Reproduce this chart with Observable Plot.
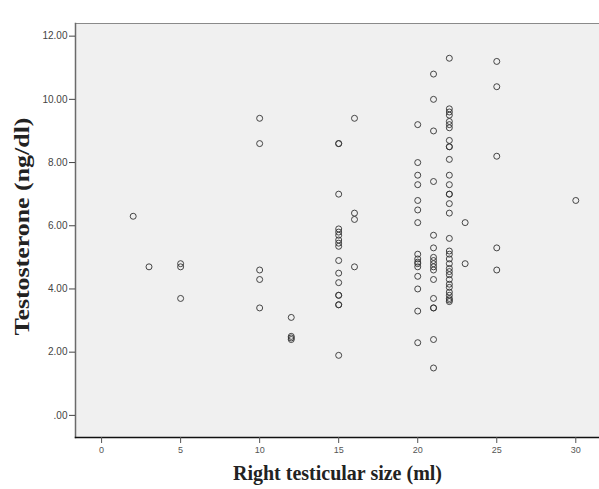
<!DOCTYPE html>
<html>
<head>
<meta charset="utf-8">
<script src="https://cdn.jsdelivr.net/npm/d3@7"></script>
<script src="https://cdn.jsdelivr.net/npm/@observablehq/plot@0.6"></script>
<style>
  html, body { margin: 0; padding: 0; background: #ffffff; }
  #chart svg { display: block; }
</style>
</head>
<body>
<div id="chart"></div>
<script>
// Right testicular size (ml) per group and testosterone (ng/dl) readings
const size2 = [6.3];
const size3 = [4.7];
const size5 = [4.8, 4.7, 3.7];
const size10 = [9.4, 8.6, 4.6, 4.3, 3.4];
const size12 = [3.1, 2.5, 2.45, 2.4];
const size15 = [8.6, 8.6, 7.0, 5.9, 5.8, 5.7, 5.55, 5.45, 5.35, 4.9, 4.5, 4.2, 3.8, 3.8, 3.5, 3.5, 1.9];
const size16 = [9.4, 6.4, 6.2, 4.7];
const size20 = [9.2, 8.0, 7.6, 7.3, 6.8, 6.5, 6.1, 5.1, 4.95, 4.85, 4.8, 4.7, 4.4, 4.0, 3.3, 2.3];
const size21 = [10.8, 10.0, 9.0, 7.4, 5.7, 5.3, 5.0, 4.9, 4.8, 4.7, 4.6, 4.3, 3.7, 3.4, 3.4, 2.4, 1.5];
const size22 = [11.3, 9.7, 9.6, 9.5, 9.3, 9.2, 9.1, 8.7, 8.5, 8.5, 8.1, 7.6, 7.3, 7.0, 7.0, 6.7, 6.4, 5.6, 5.2, 5.1, 4.95, 4.8, 4.65, 4.55, 4.45, 4.3, 4.15, 4.05, 3.9, 3.8, 3.7, 3.65, 3.6];
const size23 = [6.1, 4.8];
const size25 = [11.2, 10.4, 8.2, 5.3, 4.6];
const size30 = [6.8];

const sizes = [2, 3, 5, 10, 12, 15, 16, 20, 21, 22, 23, 25, 30];
const groups = [size2, size3, size5, size10, size12, size15, size16, size20, size21, size22, size23, size25, size30];

const xTicks = [0, 5, 10, 15, 20, 25, 30];
const yTicks = [0, 2, 4, 6, 8, 10, 12];
const xTitle = "Right testicular size (ml)";
const yTitle = "Testosterone (ng/dl)";

const data = sizes.flatMap((s, i) => groups[i].map(t => ({size: s, testosterone: t})));

const yFormat = d => d === 0 ? ".00" : d.toFixed(2);
const serif = "'Liberation Serif', 'Times New Roman', serif";

const chart = Plot.plot({
  width: 599,
  height: 489,
  marginLeft: 75,
  marginRight: 0,
  marginTop: 23,
  marginBottom: 52,
  style: {background: "#ffffff", fontFamily: "Arial, 'Liberation Sans', sans-serif"},
  x: {domain: [-1.65, 31.5]},
  y: {domain: [-0.7, 12.4]},
  marks: [
    Plot.frame({fill: "#f0f0f0", stroke: null}),
    Plot.frame({anchor: "top", stroke: "#8a8a8a", strokeWidth: 1.2}),
    Plot.frame({anchor: "left", stroke: "#6a6a6a", strokeWidth: 1.5}),
    Plot.frame({anchor: "bottom", stroke: "#111", strokeWidth: 1.5}),
    Plot.axisY({ticks: yTicks, tickFormat: yFormat, tickSize: 6, tickPadding: 2, fontSize: 10, fill: "#444", stroke: "#444", label: null}),
    Plot.axisX({ticks: xTicks, tickFormat: d => String(d), tickSize: 6, tickPadding: 3, fontSize: 9, fill: "#555", stroke: "#555", label: null}),
    Plot.dot(data, {x: "size", y: "testosterone", r: 3, stroke: "#333", strokeWidth: 1, strokeOpacity: 0.9, fill: "none"}),
    Plot.text([yTitle], {frameAnchor: "left", textAnchor: "middle", dx: -53, dy: -4, rotate: -90, fontSize: 21, fontWeight: "bold", fontFamily: serif, fill: "#222", text: d => d}),
    Plot.text([xTitle], {frameAnchor: "bottom", textAnchor: "middle", dy: 42, fontSize: 20, fontWeight: "bold", fontFamily: serif, fill: "#222", text: d => d})
  ]
});
d3.select(chart).selectAll("text")
  .filter(function () { return this.textContent === yTitle; })
  .attr("textLength", 218)
  .attr("lengthAdjust", "spacingAndGlyphs");
document.getElementById("chart").appendChild(chart);
</script>
</body>
</html>
